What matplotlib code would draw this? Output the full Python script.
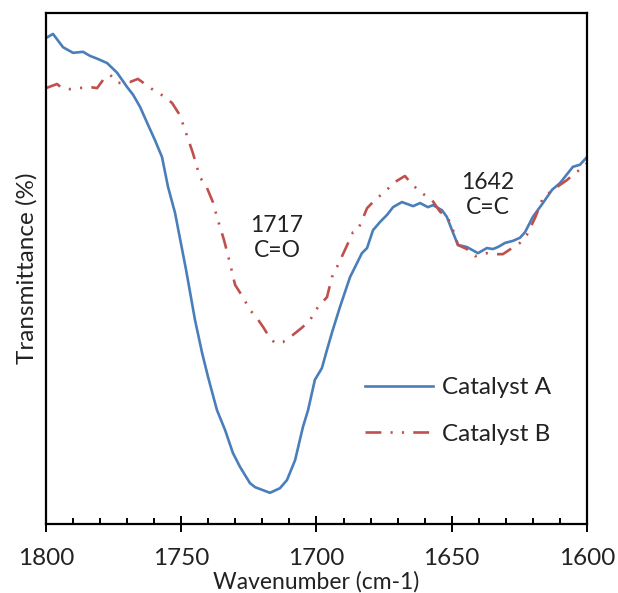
import matplotlib
matplotlib.use("Agg")
import matplotlib.pyplot as plt
from matplotlib.ticker import MultipleLocator

# FTIR spectra, arbitrary transmittance units
wn_a = [1800.0, 1797.4, 1793.7, 1790.0, 1786.3, 1783.7, 1780.8, 1777.4, 1773.7, 1770.0,
        1767.8, 1765.2, 1762.6, 1759.7, 1757.1, 1754.9, 1752.3, 1748.2, 1744.9, 1742.3,
        1740.1, 1736.8, 1733.8, 1730.9, 1728.3, 1724.6, 1722.7, 1717.2, 1713.5, 1710.9,
        1707.9, 1705.0, 1703.1, 1700.6, 1698.0, 1696.1, 1694.3, 1691.3, 1687.6, 1683.2,
        1681.3, 1679.1, 1676.5, 1673.9, 1671.7, 1668.4, 1664.3, 1661.7, 1658.8, 1656.9,
        1653.6, 1651.8, 1649.9, 1647.7, 1644.4, 1640.3, 1637.0, 1634.8, 1632.9, 1630.3,
        1627.4, 1624.8, 1622.9, 1620.0, 1616.3, 1612.9, 1610.0, 1605.2, 1602.6, 1600.0]
t_a = [95.1, 95.9, 93.3, 92.2, 92.4, 91.6, 91.0, 90.2, 88.3, 85.5,
       84.0, 81.6, 78.5, 75.1, 71.8, 66.0, 60.9, 49.7, 39.9, 33.5,
       28.8, 22.3, 18.4, 13.9, 11.2, 8.0, 7.2, 6.1, 7.0, 8.6,
       12.5, 19.0, 22.3, 28.2, 30.5, 34.1, 37.4, 42.5, 48.3, 53.0,
       54.0, 57.5, 59.1, 60.5, 62.0, 63.0, 62.2, 62.8, 62.0, 62.4,
       61.4, 60.1, 57.5, 54.6, 54.2, 53.0, 54.0, 53.8, 54.2, 55.0,
       55.4, 56.0, 57.1, 60.1, 62.8, 65.4, 66.7, 69.9, 70.3, 71.8]

wn_b = [1800.0, 1795.9, 1794.1, 1791.1, 1787.8, 1783.7, 1781.1, 1778.9, 1776.3, 1773.4,
        1768.9, 1766.0, 1763.4, 1759.7, 1756.7, 1753.4, 1750.5, 1748.6, 1745.7, 1743.1,
        1740.5, 1738.3, 1736.8, 1734.2, 1732.0, 1730.1, 1727.2, 1724.6, 1722.0, 1719.8,
        1717.2, 1715.3, 1712.4, 1708.7, 1705.4, 1702.4, 1699.4, 1696.1, 1694.3, 1692.4,
        1689.5, 1686.5, 1684.7, 1682.8, 1681.3, 1678.4, 1673.9, 1671.7, 1667.3, 1664.7,
        1661.7, 1657.3, 1654.3, 1651.4, 1649.5, 1647.7, 1644.4, 1641.4, 1637.0, 1634.0,
        1631.1, 1627.7, 1624.8, 1622.2, 1619.2, 1616.3, 1612.6, 1607.4, 1604.4, 1601.5,
        1600.0]
t_b = [85.3, 86.1, 85.3, 85.1, 85.3, 85.5, 85.3, 86.9, 87.9, 86.3,
       86.5, 87.1, 86.1, 84.7, 83.8, 82.4, 80.0, 77.1, 72.6, 67.9,
       65.8, 63.0, 60.1, 55.6, 51.1, 46.8, 44.4, 41.9, 40.3, 38.6,
       36.4, 35.4, 35.6, 37.0, 38.4, 39.9, 42.5, 44.4, 48.3, 50.3,
       53.6, 57.1, 57.5, 59.9, 61.8, 63.4, 65.4, 66.7, 68.1, 66.5,
       65.0, 63.4, 61.1, 59.9, 57.5, 54.6, 53.8, 52.4, 53.0, 52.8,
       52.8, 54.0, 55.0, 56.6, 59.9, 63.8, 65.4, 67.3, 68.7, 69.7,
       70.6]

peak_pos = [1714.6, 1636.6]
peak_y = [55.9, 64.4]
peak_labels = ["1717\nC=O", "1642\nC=C"]

BLUE = "#4a7ebb"
RED = "#c0504d"
INK = "#222222"

plt.rcParams["font.family"] = ["Lato", "DejaVu Sans"]

fig = plt.figure(figsize=(6.18, 5.93), dpi=100)
ax = fig.add_axes([0.0744, 0.1164, 0.8754, 0.8617])

ax.plot(wn_a, t_a, color=BLUE, linewidth=1.9, label="Catalyst A")
ax.plot(wn_b, t_b, color=RED, linewidth=1.9, dashes=(6, 3.5, 0.8, 3.5, 0.8, 3.5),
        label="Catalyst B")

for x, y, s in zip(peak_pos, peak_y, peak_labels):
    ax.text(x, y, s, ha="center", va="center", fontsize=16.5, linespacing=1.25,
            color=INK)

ax.set_xlim(1800, 1600)
ax.set_ylim(0, 100)
ax.xaxis.set_major_locator(MultipleLocator(50))
ax.xaxis.set_minor_locator(MultipleLocator(10))
ax.tick_params(axis="x", which="major", direction="inout", length=11.5, width=1.4,
               labelsize=17.5, pad=11.5, labelcolor=INK)
ax.tick_params(axis="x", which="minor", direction="in", length=4.3, width=1.4)
ax.set_yticks([])
for spine in ax.spines.values():
    spine.set_linewidth(1.6)

ax.set_xlabel("Wavenumber (cm-1)", fontsize=16.5, labelpad=1.5, color=INK)
ax.set_ylabel("Transmittance (%)", fontsize=17.5, labelpad=6, color=INK)

leg = ax.legend(loc="upper left", bbox_to_anchor=(0.55, 0.33), frameon=False,
                fontsize=17.5, handlelength=2.8, handletextpad=0.35, labelspacing=1.05)
for txt in leg.get_texts():
    txt.set_color(INK)

fig.savefig("out.png", dpi=100)
